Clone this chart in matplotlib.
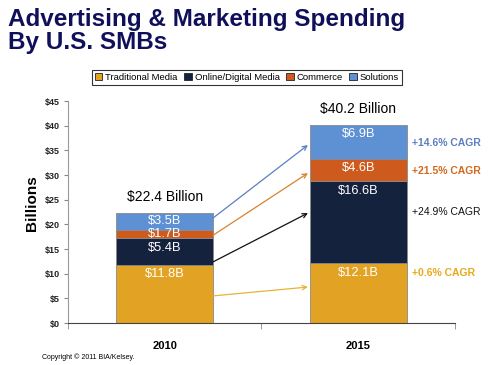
import matplotlib
matplotlib.use("Agg")
import matplotlib.pyplot as plt
import numpy as np

plt.rcParams['font.family'] = ['Liberation Sans', 'DejaVu Sans']

years = ['2010', '2015']
series = ['Traditional Media', 'Online/Digital Media', 'Commerce', 'Solutions']
traditional = [11.8, 12.1]
online = [5.4, 16.6]
commerce = [1.7, 4.6]
solutions = [3.5, 6.9]
seg_labels = [['$11.8B', '$12.1B'], ['$5.4B', '$16.6B'], ['$1.7B', '$4.6B'], ['$3.5B', '$6.9B']]
totals = ['$22.4 Billion', '$40.2 Billion']
cagr = ['+0.6% CAGR', '+24.9% CAGR', '+21.5% CAGR', '+14.6% CAGR']
cagr_y = [10.1, 22.5, 30.8, 36.5]
arrow_start = [5.5, 12.4, 17.8, 21.3]
arrow_end = [7.3, 22.3, 30.4, 36.1]

colors = ['#E2A224', '#15223D', '#CF5A1E', '#5E90D4']
text_colors = ['#E8A818', '#111111', '#D2691E', '#5B7FC0']
arrow_colors = ['#E9B235', '#111111', '#D9822B', '#5B7FC0']
cagr_bold = [True, False, True, True]

fig = plt.figure(figsize=(4.99, 3.65), dpi=100)
ax = fig.add_axes([0.136, 0.115, 0.776, 0.608])

x = np.arange(len(years))
w = 0.5
bottom = np.zeros(len(years))
data = [traditional, online, commerce, solutions]
for i, vals in enumerate(data):
    vals = np.array(vals)
    ax.bar(x, vals, w, bottom=bottom, color=colors[i], edgecolor='#8a8a8a',
           linewidth=0.6, label=series[i], zorder=2)
    for j in range(len(years)):
        top = bottom[j] + vals[j]
        ypos = max(top - 1.9, bottom[j] + vals[j] / 2)
        ax.text(x[j], ypos, seg_labels[i][j], ha='center', va='center',
                color='white', fontsize=9.3, zorder=3)
    bottom = bottom + vals

for j in range(len(years)):
    ax.text(x[j], bottom[j] + 3.1, totals[j], ha='center', va='center',
            fontsize=10, color='black')

for i in range(4):
    ax.annotate('', xy=(x[1] - w / 2 - 0.01, arrow_end[i]),
                xytext=(x[0] + w / 2, arrow_start[i]),
                arrowprops=dict(arrowstyle='->', color=arrow_colors[i], lw=0.9,
                                shrinkA=0, shrinkB=0, mutation_scale=8))
    ax.text(x[1] + w / 2 + 0.03, cagr_y[i], cagr[i], ha='left', va='center',
            fontsize=7.5, color=text_colors[i],
            fontweight='bold' if cagr_bold[i] else 'normal')

ax.set_xlim(-0.5, 1.5)
ax.set_ylim(0, 45)
ax.set_yticks(np.arange(0, 46, 5))
ax.set_yticklabels(['$%d' % v for v in range(0, 46, 5)], fontsize=6.5,
                   fontweight='bold', color='#222222')
ax.set_xticks(x)
ax.set_xticklabels(years, fontsize=8, fontweight='bold')
ax.tick_params(axis='x', length=0, pad=13)
ax.set_xticks([-0.5, 0.5, 1.5], minor=True)
ax.tick_params(axis='x', which='minor', length=4, color='#888888')
ax.tick_params(axis='y', length=3, color='#888888', pad=3)
for s in ['top', 'right']:
    ax.spines[s].set_visible(False)
ax.spines['left'].set_color('#999999')
ax.spines['bottom'].set_color('#444444')
ax.set_ylabel('Billions', fontsize=11, fontweight='bold')
ax.yaxis.set_label_coords(-0.075, 0.54)

fig.text(0.016, 0.978, 'Advertising & Marketing Spending\nBy U.S. SMBs',
         ha='left', va='top', fontsize=17.5, fontweight='heavy',
         color='#10105A', linespacing=1.0)

leg = fig.legend(loc='center', bbox_to_anchor=(0.495, 0.788), ncol=4,
                 fontsize=6.8, frameon=True, fancybox=False, edgecolor='black',
                 handlelength=0.8, handleheight=0.8, handletextpad=0.3,
                 columnspacing=0.7, borderpad=0.35)
leg.get_frame().set_linewidth(0.8)
for h in leg.legend_handles:
    h.set_edgecolor('#222222')

fig.text(0.084, 0.022, 'Copyright \u00a9 2011 BIA/Kelsey.', fontsize=5,
         ha='left', va='center')

fig.savefig('out.png', dpi=100)
